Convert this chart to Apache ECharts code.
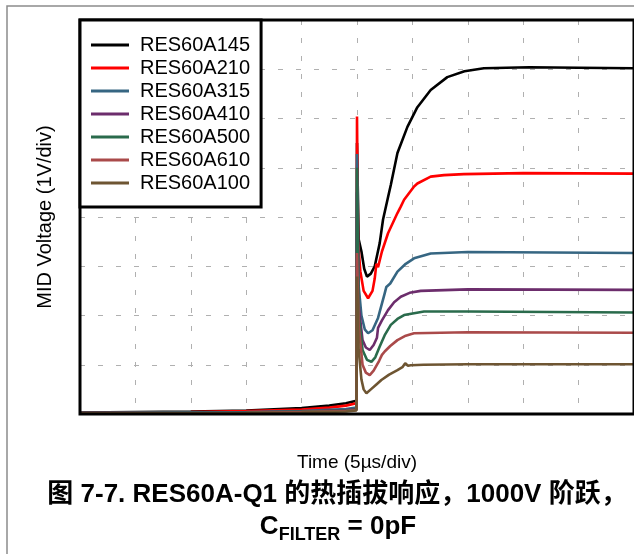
<!DOCTYPE html>
<html>
<head>
<meta charset="utf-8">
<script src="https://cdn.jsdelivr.net/npm/echarts@6/dist/echarts.min.js"></script>
<style>
html,body{margin:0;padding:0;background:#fff;}
#chart{width:634px;height:554px;}
</style>
</head>
<body>
<div id="chart"></div>
<script>
// Time in µs (5 µs/div), voltage in V (1 V/div)
const seriesNames = ['RES60A145','RES60A210','RES60A315','RES60A410','RES60A500','RES60A610','RES60A100'];
const seriesColors = ['#000000','#ff0000','#366682','#6c2d6c','#2a6b4c','#aa4a4a','#6e5532'];

const RES60A145 = [[0,0.03],[5,0.04],[10,0.05],[15,0.07],[20,0.12],[22.5,0.17],[24,0.22],[24.95,0.27],[25,5.5],[25.15,3.55],[25.4,3.3],[25.65,2.95],[25.9,2.79],[26.25,2.85],[26.6,3.0],[27.05,3.47],[27.35,3.95],[27.8,4.4],[28.05,4.65],[28.65,5.3],[29.55,5.83],[30.45,6.23],[31.65,6.58],[33.15,6.84],[34.7,6.96],[36.45,7.02],[40.55,7.04],[45,7.03],[50,7.02]];
const RES60A210 = [[0,0.02],[10,0.04],[15,0.06],[20,0.09],[22.5,0.13],[24,0.17],[24.95,0.22],[25,6.04],[25.1,3.5],[25.3,2.9],[25.6,2.5],[26,2.35],[26.4,2.5],[26.6,2.75],[26.75,3.05],[26.9,2.98],[27.25,3.3],[27.8,3.67],[28.65,4.08],[28.95,4.21],[29.25,4.35],[30.15,4.62],[30.45,4.68],[31.65,4.82],[32.85,4.85],[34.65,4.87],[40,4.89],[50,4.88]];
const RES60A315 = [[0,0.02],[15,0.04],[20,0.06],[24,0.1],[24.95,0.13],[25,5.28],[25.15,2.6],[25.4,2.0],[25.7,1.72],[26,1.64],[26.4,1.7],[26.9,1.95],[27.5,2.45],[27.65,2.58],[27.75,2.6],[28.0,2.65],[28.65,2.89],[29.4,3.05],[30.15,3.16],[31.65,3.26],[35,3.29],[50,3.27]];
const RES60A410 = [[0,0.02],[15,0.03],[20,0.05],[24,0.08],[24.95,0.1],[25,4.5],[25.15,2.2],[25.5,1.5],[25.8,1.35],[26.15,1.3],[26.5,1.4],[26.8,1.55],[26.9,1.75],[27.25,1.9],[27.8,2.11],[28.35,2.27],[28.95,2.38],[29.75,2.46],[30.75,2.5],[35,2.53],[50,2.52]];
const RES60A500 = [[0,0.02],[15,0.03],[20,0.05],[24,0.07],[24.95,0.09],[25,5.0],[25.15,2.0],[25.5,1.3],[25.9,1.1],[26.3,1.06],[26.65,1.15],[27.05,1.37],[27.5,1.6],[28.05,1.81],[28.65,1.93],[29.25,2.01],[31.05,2.08],[35,2.08],[50,2.06]];
const RES60A610 = [[0,0.01],[15,0.02],[20,0.04],[24,0.06],[24.95,0.08],[25,3.27],[25.15,1.8],[25.5,1.0],[25.8,0.84],[26.15,0.79],[26.5,0.88],[27,1.08],[27.25,1.2],[27.5,1.27],[28,1.38],[28.65,1.5],[29.4,1.59],[30.15,1.64],[35,1.66],[50,1.65]];
const RES60A100 = [[0,0.01],[15,0.02],[20,0.03],[24,0.05],[24.95,0.07],[25,2.79],[25.15,1.3],[25.4,0.7],[25.6,0.5],[25.85,0.42],[26.25,0.5],[26.75,0.6],[27.2,0.69],[27.9,0.8],[28.65,0.89],[29.1,0.95],[29.35,1.03],[29.6,0.98],[29.85,0.99],[31,1.0],[35,1.01],[50,1.01]];
const seriesData = [RES60A145,RES60A210,RES60A315,RES60A410,RES60A500,RES60A610,RES60A100];

const xTitle = 'Time (5µs/div)';
const yTitle = 'MID Voltage (1V/div)';
const captionLine1 = '图 7-7. RES60A-Q1 的热插拔响应，1000V 阶跃，';

const FONT = '"Liberation Sans", Arial, "Noto Sans CJK SC", sans-serif';
const chart = echarts.init(document.getElementById('chart'), null, {renderer:'canvas'});

const dashed = {color:'#b0b0b0', width:1, type:[5,13]};

chart.setOption({
  animation:false,
  backgroundColor:'#fff',
  grid:{left:80, top:20, width:558, height:394, show:true, borderColor:'#000', borderWidth:3, backgroundColor:'transparent', z:3},
  xAxis:{type:'value', min:0, max:50, interval:5,
    axisLine:{show:false}, axisTick:{show:false}, axisLabel:{show:false},
    splitLine:{show:true, lineStyle:dashed},
    name:xTitle, nameLocation:'middle', nameGap:39,
    nameTextStyle:{fontFamily:FONT, fontSize:19, color:'#000'}},
  yAxis:{type:'value', min:0, max:8, interval:1,
    axisLine:{show:false}, axisTick:{show:false}, axisLabel:{show:false},
    splitLine:{show:true, lineStyle:dashed},
    name:yTitle, nameLocation:'middle', nameGap:25, nameRotate:90,
    nameTextStyle:{fontFamily:FONT, fontSize:20, color:'#000'}},
  legend:{orient:'vertical', left:80, top:20, data:seriesNames,
    icon:'rect', itemWidth:38, itemHeight:3, itemGap:3,
    padding:[15,11,14,11], borderColor:'#000', borderWidth:3, backgroundColor:'#fff',
    textStyle:{fontFamily:FONT, fontSize:20, color:'#000', lineHeight:20, padding:[0,0,0,6]},
    z:10},
  series: seriesNames.map((n,i)=>({
    name:n, type:'line', data:seriesData[i], showSymbol:false, symbol:'none',
    color:seriesColors[i],
    lineStyle:{color:seriesColors[i], width:2.6},
    clip:true, z:2+i*0.01
  })),
  graphic:[
    {type:'rect', z:0, silent:true, shape:{x:7, y:6, width:700, height:700},
      style:{fill:'none', stroke:'#8c8c8c', lineWidth:1.5}},
    {type:'text', x:337, y:482, z:5,
      style:{text:captionLine1, align:'center', fontFamily:FONT, fontSize:26, fontWeight:'bold', fill:'#000'}},
    {type:'text', x:338, y:514, z:5,
      style:{text:'{m|C}{s|FILTER}{m| = 0pF}', align:'center', fontFamily:FONT, fill:'#000',
        rich:{m:{fontFamily:FONT, fontSize:26, fontWeight:'bold', lineHeight:30, verticalAlign:'top'},
              s:{fontFamily:FONT, fontSize:18, fontWeight:'bold', lineHeight:18, verticalAlign:'bottom'}}}}
  ]
});
</script>
</body>
</html>
